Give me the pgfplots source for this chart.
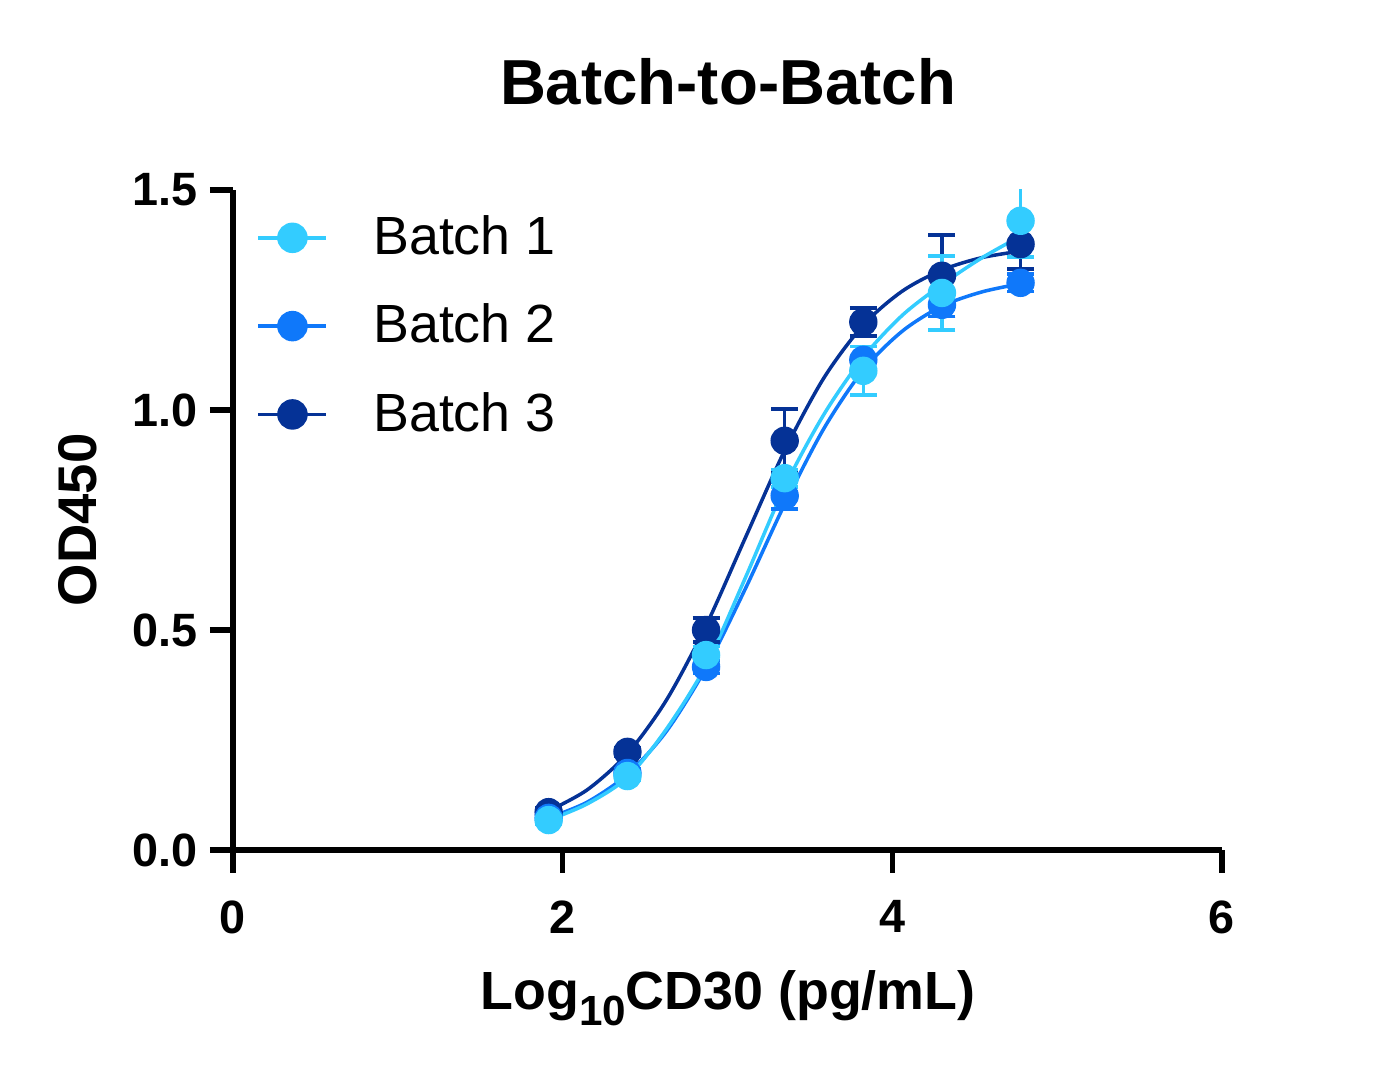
\documentclass[border=0pt]{standalone}
\usepackage{pgfplots}
\pgfplotsset{compat=1.18}
\usepackage{pgfplotstable}
\usepackage{fontspec}
\setmainfont{Liberation Sans}
\definecolor{cA}{RGB}{51,204,255}
\definecolor{cB}{RGB}{15,120,250}
\definecolor{cC}{RGB}{5,50,150}

\pgfplotstableread{
x y e
1.915 0.068 0.010
2.393 0.168 0.010
2.870 0.443 0.020
3.347 0.845 0.020
3.824 1.089 0.055
4.301 1.266 0.084
4.778 1.430 0.082
}\dataA
\pgfplotstableread{
x y e
1.915 0.073 0.010
2.393 0.175 0.010
2.870 0.416 0.015
3.347 0.805 0.030
3.824 1.114 0.030
4.301 1.239 0.027
4.778 1.289 0.020
}\dataB
\pgfplotstableread{
x y e
1.915 0.086 0.010
2.393 0.223 0.010
2.870 0.500 0.027
3.347 0.930 0.072
3.824 1.200 0.032
4.301 1.305 0.093
4.778 1.377 0.056
}\dataC

\pgfplotstableread{
x y
1.915 0.068
2.150 0.105
2.393 0.165
2.630 0.275
2.870 0.420
3.110 0.620
3.347 0.825
3.585 0.990
3.824 1.120
4.060 1.215
4.301 1.285
4.540 1.345
4.778 1.395
}\fitA
\pgfplotstableread{
x y
1.915 0.073
2.150 0.109
2.393 0.172
2.630 0.270
2.870 0.414
3.110 0.595
3.347 0.786
3.585 0.958
3.824 1.091
4.060 1.179
4.301 1.236
4.540 1.268
4.778 1.287
}\fitB
\pgfplotstableread{
x y
1.915 0.089
2.150 0.137
2.393 0.219
2.630 0.341
2.870 0.510
3.110 0.711
3.347 0.908
3.585 1.073
3.824 1.193
4.060 1.270
4.301 1.318
4.540 1.346
4.778 1.361
}\fitC

\begin{document}
\begin{tikzpicture}
\useasboundingbox (-2.33,-2.33) rectangle (11.43,8.50);
\begin{axis}[
  at={(0,0)}, anchor=south west, scale only axis,
  width=9.89cm, height=6.6cm,
  xmin=0, xmax=6, ymin=0, ymax=1.5,
  axis lines=left,
  axis line style={-, line width=1.5pt, black},
  xtick={0,2,4,6}, ytick={0,0.5,1,1.5},
  tick align=outside, major tick length=0.23cm,
  tick style={line width=1.5pt, black},
  /pgf/number format/assume math mode=true,
  ticklabel style={font=\fontsize{13.3}{16}\selectfont\bfseries},
  yticklabel style={/pgf/number format/.cd, fixed, fixed zerofill, precision=1},
  xticklabel style={yshift=-0.15cm},
  legend style={at={(axis description cs:0,1)}, anchor=north west,
    xshift=0.23cm, yshift=-0.18cm, draw=none, fill=none, inner sep=0pt,
    font=\fontsize{15.3}{18}\selectfont, row sep=0.30cm,
    cells={anchor=west},
    /tikz/every odd column/.append style={column sep=0.38cm}},
  legend image code/.code={\draw[mark repeat=2,mark phase=2,#1] plot coordinates {(0cm,0cm) (0.34cm,0cm) (0.68cm,0cm)};},
]
\addlegendimage{cA, line width=1pt, mark=*, mark size=3.84pt, mark options={solid, fill=cA, draw=cA}}
\addlegendentry{Batch 1}
\addlegendimage{cB, line width=1pt, mark=*, mark size=3.84pt, mark options={solid, fill=cB, draw=cB}}
\addlegendentry{Batch 2}
\addlegendimage{cC, line width=1pt, mark=*, mark size=3.84pt, mark options={solid, fill=cC, draw=cC}}
\addlegendentry{Batch 3}

\addplot[forget plot, cC, line width=1pt, smooth, no marks] table[x=x,y=y] {\fitC};
\addplot[forget plot, cB, line width=1pt, smooth, no marks] table[x=x,y=y] {\fitB};
\addplot[forget plot, cA, line width=1pt, smooth, no marks] table[x=x,y=y] {\fitA};

\addplot[forget plot, only marks, mark=*, mark size=3.84pt, color=cC, mark options={fill=cC, draw=cC},
  error bars/.cd, y dir=both, y explicit,
  error bar style={line width=1pt, cC},
  error mark options={rotate=90, mark size=0.135cm, line width=1pt, cC}]
  table[x=x, y=y, y error=e] {\dataC};
\addplot[forget plot, only marks, mark=*, mark size=3.84pt, color=cB, mark options={fill=cB, draw=cB},
  error bars/.cd, y dir=both, y explicit,
  error bar style={line width=1pt, cB},
  error mark options={rotate=90, mark size=0.135cm, line width=1pt, cB}]
  table[x=x, y=y, y error=e] {\dataB};
\addplot[forget plot, only marks, mark=*, mark size=3.84pt, color=cA, mark options={fill=cA, draw=cA},
  error bars/.cd, y dir=both, y explicit,
  error bar style={line width=1pt, cA},
  error mark options={rotate=90, mark size=0.135cm, line width=1pt, cA}]
  table[x=x, y=y, y error=e] {\dataA};
\end{axis}
\node[anchor=base, font=\fontsize{18.1}{22}\selectfont\bfseries] at (4.95,7.45) {Batch-to-Batch};
\node[anchor=base, font=\fontsize{15.3}{18}\selectfont\bfseries] at (4.95,-1.60) {Log\raisebox{-0.28em}{\fontsize{12}{14}\selectfont 10}CD30 (pg/mL)};
\node[anchor=base, rotate=90, font=\fontsize{15.5}{18}\selectfont\bfseries] at (-1.36,3.30) {OD450};
\end{tikzpicture}
\end{document}
